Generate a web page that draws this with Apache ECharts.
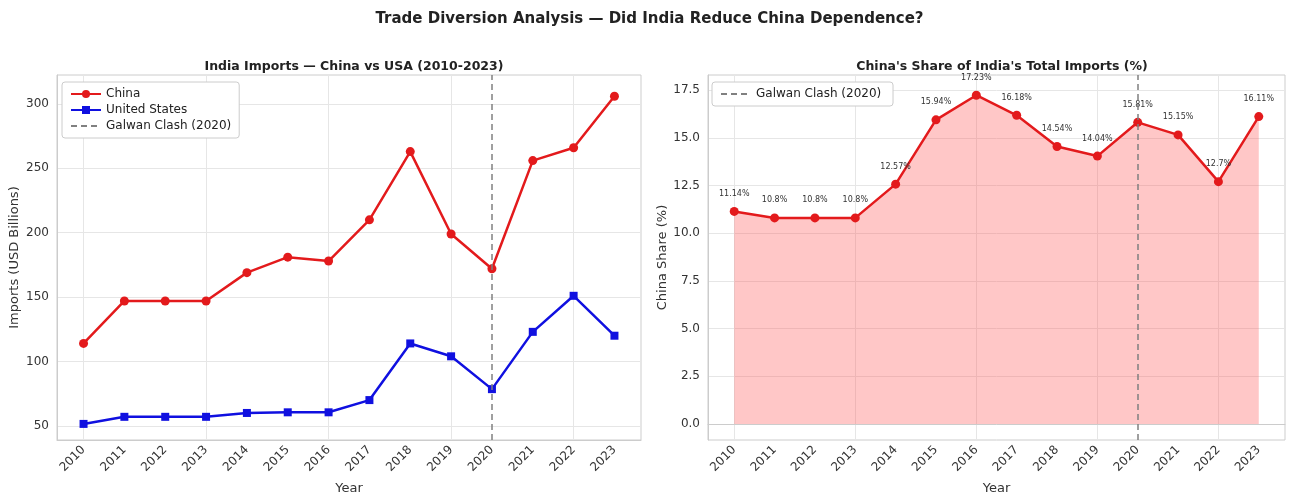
<!DOCTYPE html>
<html>
<head>
<meta charset="utf-8">
<script src="https://cdn.jsdelivr.net/npm/echarts@6/dist/echarts.min.js"></script>
<style>html,body{margin:0;padding:0;background:#fff}#main{width:1299px;height:504px}</style>
</head>
<body>
<div id="main"></div>
<script>
// data
const years = [2010, 2011, 2012, 2013, 2014, 2015, 2016, 2017, 2018, 2019, 2020, 2021, 2022, 2023];
const chinaImports = [114, 147, 147, 147, 169, 181, 178, 210, 263, 199, 172, 256, 266, 306];
const usaImports = [51.5, 57, 57, 57, 60, 60.5, 60.5, 70, 114, 104, 78.5, 123, 151, 120];
const chinaShare = [11.14, 10.8, 10.8, 10.8, 12.57, 15.94, 17.23, 16.18, 14.54, 14.04, 15.81, 15.15, 12.7, 16.11];
const leftTicks = [50, 100, 150, 200, 250, 300];
const rightTicks = [0, 2.5, 5, 7.5, 10, 12.5, 15, 17.5];
const clashYear = 2020;

const font = "DejaVu Sans";
const pair = (ys) => years.map((y, i) => [y, ys[i]]);

const xAxisBase = (idx) => ({
  type: "value", gridIndex: idx, min: 2009.35, max: 2023.65,
  name: "Year", nameLocation: "middle", nameGap: 42,
  nameTextStyle: { fontFamily: font, fontSize: 13, color: "#333" },
  axisLine: { show: true, lineStyle: { color: "#ccc" } },
  axisTick: { show: false },
  axisLabel: { customValues: years, rotate: 45, fontFamily: font, fontSize: 12, color: "#333", margin: 8,
    formatter: (v) => String(v) },
  splitLine: { show: true, lineStyle: { color: "#e6e6e6" } }
});
const yAxisBase = (idx, min, max, ticks, name) => ({
  type: "value", gridIndex: idx, min, max,
  name, nameLocation: "middle", nameGap: 36,
  nameTextStyle: { fontFamily: font, fontSize: 13, color: "#333" },
  axisLine: { show: true, lineStyle: { color: "#ccc" } },
  axisTick: { show: false, customValues: ticks },
  axisLabel: { customValues: ticks, fontFamily: font, fontSize: 12, color: "#333",
    formatter: (v) => idx === 1 ? v.toFixed(1) : String(v) },
  splitLine: { show: true, lineStyle: { color: "#e6e6e6" } }
});
const clashLine = {
  silent: true, symbol: "none", label: { show: false },
  lineStyle: { color: "#808080", type: [6, 4], width: 1.5 },
  data: [{ xAxis: clashYear }]
};
const dummy = (name, idx) => ({
  name, type: "line", xAxisIndex: idx, yAxisIndex: idx, data: [],
  symbol: "none", itemStyle: { color: "#808080", opacity: 0 },
  lineStyle: { type: [6, 4], width: 1.5, color: "#808080" }
});

const chart = echarts.init(document.getElementById("main"));
chart.setOption({
  backgroundColor: "#fff",
  animation: false,
  title: [
    { text: "Trade Diversion Analysis — Did India Reduce China Dependence?", left: "center", top: 7,
      textStyle: { fontFamily: font, fontSize: 15, fontWeight: "bold", color: "#222" } },
    { text: "India Imports — China vs USA (2010-2023)", left: 349, textAlign: "center", top: 55,
      textStyle: { fontFamily: font, fontSize: 12.5, fontWeight: "bold", color: "#222" } },
    { text: "China's Share of India's Total Imports (%)", left: 997, textAlign: "center", top: 55,
      textStyle: { fontFamily: font, fontSize: 12.5, fontWeight: "bold", color: "#222" } }
  ],
  grid: [
    { left: 57, top: 75, width: 584, height: 365, show: true, borderColor: "#ccc", borderWidth: 1 },
    { left: 708, top: 75, width: 577, height: 365, show: true, borderColor: "#ccc", borderWidth: 1 }
  ],
  legend: [
    { left: 62, top: 82, orient: "vertical", itemGap: 4, itemWidth: 30, itemHeight: 10,
      padding: [6, 8], borderColor: "#ccc", borderWidth: 1, borderRadius: 3, backgroundColor: "#fff",
      textStyle: { fontFamily: font, fontSize: 12, color: "#222" },
      data: ["China", "United States", "Galwan Clash (2020)"] },
    { left: 712, top: 82, itemWidth: 30, itemHeight: 10,
      padding: [6, 8], borderColor: "#ccc", borderWidth: 1, borderRadius: 3, backgroundColor: "#fff",
      textStyle: { fontFamily: font, fontSize: 12, color: "#222" },
      data: ["Galwan Clash (2020) "] }
  ],
  xAxis: [xAxisBase(0), xAxisBase(1)],
  yAxis: [
    yAxisBase(0, 39, 322.5, leftTicks, "Imports (USD Billions)"),
    yAxisBase(1, -0.84, 18.29, rightTicks, "China Share (%)")
  ],
  series: [
    { name: "China", type: "line", xAxisIndex: 0, yAxisIndex: 0, data: pair(chinaImports),
      symbol: "circle", symbolSize: 9, itemStyle: { color: "#e31a1c" }, lineStyle: { width: 2.5, color: "#e31a1c" },
      markLine: clashLine },
    { name: "United States", type: "line", xAxisIndex: 0, yAxisIndex: 0, data: pair(usaImports),
      symbol: "rect", symbolSize: 8, itemStyle: { color: "#1010e0" }, lineStyle: { width: 2.5, color: "#1010e0" } },
    dummy("Galwan Clash (2020)", 0),
    { name: "Share", type: "line", xAxisIndex: 1, yAxisIndex: 1, data: pair(chinaShare),
      symbol: "circle", symbolSize: 9, itemStyle: { color: "#e31a1c" }, lineStyle: { width: 2.5, color: "#e31a1c" },
      areaStyle: { color: "rgba(255,80,80,0.45)", origin: 0 },
      label: { show: true, position: "top", distance: 9, fontFamily: font, fontSize: 8, color: "#333",
        formatter: (p) => p.value[1] + "%" },
      markLine: clashLine },
    dummy("Galwan Clash (2020) ", 1)
  ]
});
</script>
</body>
</html>
